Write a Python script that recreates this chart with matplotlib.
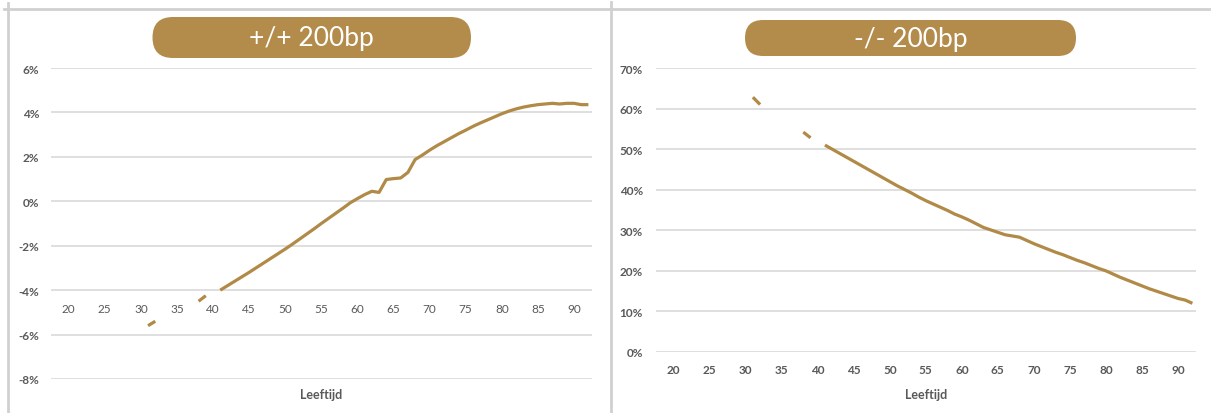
import numpy as np
import matplotlib
matplotlib.use("Agg")
import matplotlib.pyplot as plt
from matplotlib.patches import FancyBboxPatch
from matplotlib.lines import Line2D
from matplotlib.transforms import IdentityTransform

plt.rcParams["font.family"] = ["Lato", "DejaVu Sans"]

# data: age (Leeftijd) -> change in %, NaN where no value
ages = np.arange(18, 93)
plus_vals = {
    31: -5.6, 32: -5.4, 38: -4.5, 39: -4.25,
    41: -4.00, 42: -3.80, 43: -3.60, 44: -3.40, 45: -3.20, 46: -2.99, 47: -2.78,
    48: -2.57, 49: -2.36, 50: -2.15, 51: -1.93, 52: -1.70, 53: -1.47, 54: -1.24,
    55: -1.00, 56: -0.77, 57: -0.54, 58: -0.31, 59: -0.07, 60: 0.12, 61: 0.30,
    62: 0.45, 63: 0.40, 64: 0.98, 65: 1.02, 66: 1.05, 67: 1.30, 68: 1.88,
    69: 2.08, 70: 2.30, 71: 2.50, 72: 2.68, 73: 2.86, 74: 3.04, 75: 3.20,
    76: 3.37, 77: 3.52, 78: 3.66, 79: 3.80, 80: 3.94, 81: 4.06, 82: 4.16,
    83: 4.24, 84: 4.30, 85: 4.35, 86: 4.38, 87: 4.41, 88: 4.38, 89: 4.41,
    90: 4.41, 91: 4.35, 92: 4.35,
}
min_vals = {
    31: 62.8, 32: 61.0, 38: 54.2, 39: 52.8,
    41: 51.0, 42: 50.0, 43: 49.0, 44: 48.0, 45: 47.0, 46: 46.0, 47: 45.0,
    48: 44.0, 49: 43.0, 50: 42.0, 51: 41.0, 52: 40.1, 53: 39.2, 54: 38.2,
    55: 37.3, 56: 36.5, 57: 35.7, 58: 34.9, 59: 34.0, 60: 33.3, 61: 32.5,
    62: 31.6, 63: 30.7, 64: 30.1, 65: 29.5, 66: 28.9, 67: 28.6, 68: 28.3,
    69: 27.5, 70: 26.7, 71: 26.0, 72: 25.3, 73: 24.6, 74: 24.0, 75: 23.3,
    76: 22.6, 77: 22.0, 78: 21.3, 79: 20.6, 80: 20.0, 81: 19.2, 82: 18.4,
    83: 17.7, 84: 17.0, 85: 16.3, 86: 15.6, 87: 15.0, 88: 14.4, 89: 13.8,
    90: 13.2, 91: 12.8, 92: 12.0,
}
plus = np.array([plus_vals.get(a, np.nan) for a in ages])
minus = np.array([min_vals.get(a, np.nan) for a in ages])

x_ticks = list(range(20, 95, 5))
titles = ["+/+ 200bp", "-/- 200bp"]

gold = "#B08A46"
box_col = "#B38C4B"
grid_col = "#D9D9D9"
txt_col = "#595959"

W, H = 1211, 414
fig = plt.figure(figsize=(W / 100, H / 100), dpi=100)

def px(x0, y0, x1, y1):
    return [x0 / W, 1 - y1 / H, (x1 - x0) / W, (y1 - y0) / H]

ax1 = fig.add_axes(px(50.6, 69, 592, 380))
ax2 = fig.add_axes(px(655.6, 69, 1196, 353))

for ax, y, ylim, yt, xpad, ypad in [
    (ax1, plus, (-8, 6), np.arange(-8, 7, 2), 9.2, 8),
    (ax2, minus, (0, 70), np.arange(0, 71, 10), 8.5, 9),
]:
    ax.plot(ages, y, color=gold, lw=2.3, solid_capstyle="butt")
    ax.set_xlim(17.5, 92.5)
    ax.set_ylim(*ylim)
    ax.set_yticks(yt)
    ax.set_yticklabels([f"{v}%" for v in yt])
    ax.set_xticks(x_ticks)
    ax.grid(axis="y", color=grid_col, lw=1.2)
    ax.set_axisbelow(True)
    for s in ["top", "right", "left", "bottom"]:
        ax.spines[s].set_visible(False)
    ax.tick_params(axis="both", length=0, labelsize=8.5, labelcolor=txt_col)
    ax.tick_params(axis="x", pad=xpad)
    ax.tick_params(axis="y", pad=ypad)
    for lab in ax.get_xticklabels() + ax.get_yticklabels():
        lab.set_fontweight("bold")

# x axis of left panel crosses at -4%
ax1.spines["bottom"].set_position(("data", -4))

# title boxes
for (x0, y0, x1, y1), t in zip([(152.5, 18, 471, 59), (745, 21, 1076, 57)], titles):
    r = (y1 - y0) / 2
    box = FancyBboxPatch((x0 + r, H - y1 + r), (x1 - x0) - 2 * r, (y1 - y0) - 2 * r,
                         boxstyle=f"round,pad={r}", transform=IdentityTransform(),
                         facecolor=box_col, edgecolor="none")
    fig.patches.append(box)
    fig.text((x0 + x1) / 2 / W, 1 - (y0 + y1) / 2 / H, t, color="white",
             fontsize=19, ha="center", va="center")

fig.text(321 / W, 1 - 395 / H, "Leeftijd", ha="center", va="center",
         fontsize=9, fontweight="bold", color=txt_col)
fig.text(926 / W, 1 - 395 / H, "Leeftijd", ha="center", va="center",
         fontsize=9, fontweight="bold", color=txt_col)

# frame lines
border = "#D0D0D0"
fig.add_artist(Line2D([4 / W, 1], [1 - 10 / H] * 2, color=border, lw=2))
fig.add_artist(Line2D([8 / W] * 2, [0, 1 - 4 / H], color=border, lw=2))
fig.add_artist(Line2D([610.5 / W] * 2, [0, 1 - 3 / H], color=border, lw=2))

fig.savefig("out.png", dpi=100)
